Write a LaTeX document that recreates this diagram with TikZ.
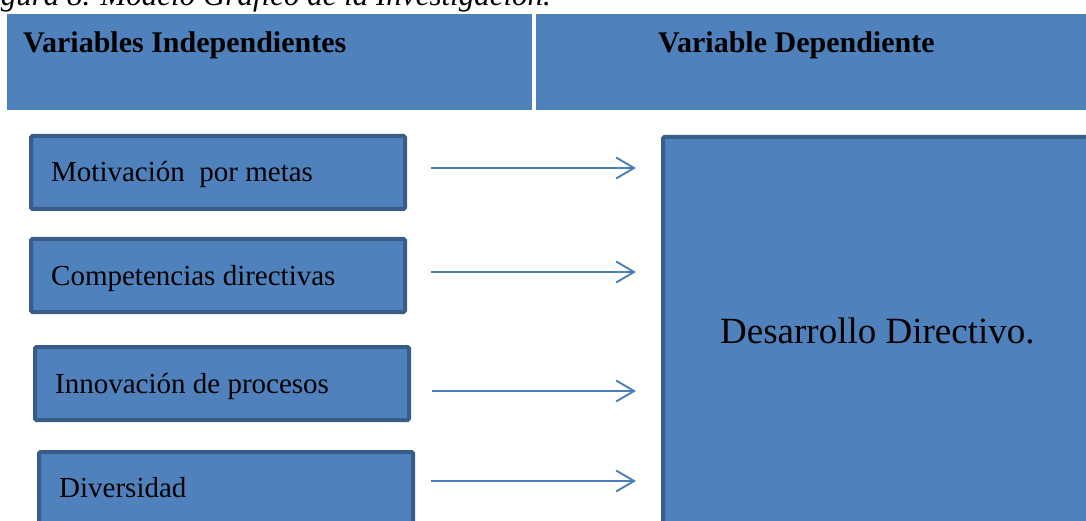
\documentclass[tikz,border=0pt]{standalone}
\usepackage{fontspec}
\setmainfont{Liberation Serif}
\usetikzlibrary{arrows.meta}
\definecolor{boxfill}{HTML}{4F81BD}
\definecolor{boxline}{HTML}{385D8A}
\definecolor{arrowcol}{HTML}{4A7EBB}
\tikzset{
  header/.style={fill=boxfill, draw=none, inner sep=0pt, anchor=north west, minimum height=96pt},
  headtext/.style={anchor=base west, inner sep=0pt, font=\bfseries\fontsize{30}{36}\selectfont},
  varbox/.style={fill=boxfill, draw=boxline, line width=4pt, rounded corners=1.5pt,
    inner sep=0pt, anchor=north west, minimum width=374pt, minimum height=73pt},
  boxtext/.style={anchor=base west, inner sep=0pt, font=\fontsize{29}{34}\selectfont},
  link/.style={draw=arrowcol, line width=1.9pt, -{Straight Barb[length=18pt,width=21pt,line width=1.9pt]}}
}
\begin{document}
\begin{tikzpicture}[x=1pt,y=-1pt]
  \useasboundingbox (0,0) rectangle (1086,521);
  \clip (0,0) rectangle (1086,521);

  % caption, partly outside the frame
  \node[anchor=base west, inner sep=0pt, font=\itshape\fontsize{31}{36}\selectfont] (cap) at (-27,6)
    {Figura 8. Modelo Gráfico de la Investigación.};

  % header bars
  \node[header, minimum width=525pt] (hleft) at (7,14) {};
  \node[header, minimum width=570pt] (hright) at (536,14) {};
  \node[headtext] (hlt) at (23,53) {Variables Independientes};
  \node[headtext] (hrt) at (658,53) {Variable Dependiente};

  % independent variables
  \node[varbox] (b1) at (29,134) {};
  \node[varbox] (b2) at (29,237) {};
  \node[varbox] (b3) at (33,345) {};
  \node[varbox] (b4) at (37,450) {};
  \node[boxtext] (t1) at (51,182) {Motivación\ \ por metas};
  \node[boxtext] (t2) at (51,285) {Competencias directivas};
  \node[boxtext] (t3) at (55,393) {Innovación de procesos};
  \node[boxtext] (t4) at (59,497) {Diversidad};

  % dependent variable
  \node[fill=boxfill, draw=boxline, line width=4pt, rounded corners=1.5pt, inner sep=0pt,
        anchor=north west, minimum width=480pt, minimum height=420pt] (dep) at (661,135) {};
  \node[anchor=base west, inner sep=0pt, font=\fontsize{37}{42}\selectfont] (dept) at (720,343)
    {Desarrollo Directivo.};

  % arrow end points
  \coordinate (s1) at (431,168); \coordinate (e1) at (636,168);
  \coordinate (s2) at (431,272); \coordinate (e2) at (636,272);
  \coordinate (s3) at (432,391); \coordinate (e3) at (636,391);
  \coordinate (s4) at (431,481); \coordinate (e4) at (636,481);
  \draw[link] (s1) -- (e1);
  \draw[link] (s2) -- (e2);
  \draw[link] (s3) -- (e3);
  \draw[link] (s4) -- (e4);
\end{tikzpicture}
\end{document}
